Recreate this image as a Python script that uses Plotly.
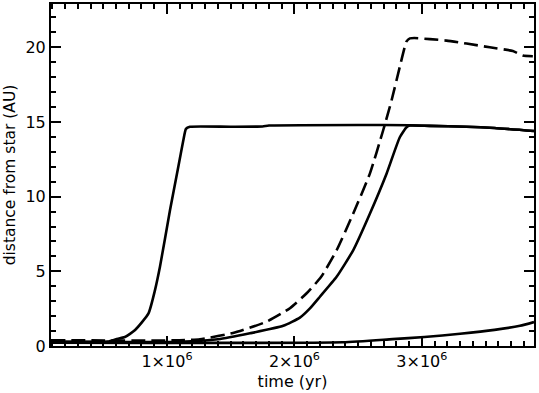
"""
Planet migration tracks: distance from star vs time
"""

import plotly.graph_objects as go

# fast solid track
time_a = [0.09e6, 0.537e6, 0.60e6, 0.67e6, 0.75e6, 0.855e6, 0.906e6, 0.945e6,
          1.024e6, 1.089e6, 1.128e6, 1.149e6, 1.18e6, 1.50e6, 1.75e6, 1.80e6,
          2.50e6, 2.90e6, 3.06e6, 3.35e6, 3.57e6, 3.88e6]
dist_a = [0.3, 0.3, 0.45, 0.6, 1.07, 2.18, 3.74, 5.3,
          9.1, 12.0, 13.76, 14.54, 14.68, 14.68, 14.7, 14.76,
          14.8, 14.78, 14.74, 14.68, 14.6, 14.4]

# middle solid track
time_b = [0.09e6, 1.10e6, 1.40e6, 1.651e6, 1.912e6, 2.043e6, 2.12e6, 2.20e6,
          2.331e6, 2.461e6, 2.592e6, 2.723e6, 2.827e6, 2.88e6, 2.906e6,
          3.06e6, 3.35e6, 3.57e6, 3.88e6]
dist_b = [0.28, 0.28, 0.45, 0.85, 1.35, 1.9, 2.5, 3.3,
          4.63, 6.41, 8.86, 11.54, 13.98, 14.65, 14.76,
          14.74, 14.68, 14.6, 14.4]

# dashed track
time_c = [0.09e6, 1.10e6, 1.259e6, 1.518e6, 1.782e6, 1.965e6, 2.096e6, 2.21e6,
          2.331e6, 2.461e6, 2.592e6, 2.696e6, 2.762e6, 2.827e6, 2.88e6,
          2.906e6, 2.94e6, 3.063e6, 3.194e6, 3.351e6, 3.533e6, 3.714e6,
          3.792e6, 3.871e6]
dist_c = [0.38, 0.38, 0.45, 0.87, 1.63, 2.53, 3.53, 4.63,
          6.41, 8.86, 11.54, 14.43, 16.43, 18.7, 20.4,
          20.6, 20.62, 20.55, 20.45, 20.25, 20.0, 19.75,
          19.45, 19.4]

# slow solid track
time_d = [0.09e6, 2.38e6, 2.77e6, 3.02e6, 3.30e6, 3.57e6, 3.77e6, 3.88e6]
dist_d = [0.22, 0.25, 0.46, 0.6, 0.82, 1.08, 1.35, 1.6]

x_tickvals = [1e6, 2e6, 3e6]
x_ticktext = ["1×10<sup>6</sup>", "2×10<sup>6</sup>", "3×10<sup>6</sup>"]

FONT = "DejaVu Sans"

fig = go.Figure()

for t, d, dash in [(time_a, dist_a, "solid"), (time_b, dist_b, "solid"),
                   (time_c, dist_c, "14px,6px"), (time_d, dist_d, "solid")]:
    fig.add_trace(go.Scatter(
        x=t, y=d, mode="lines",
        line=dict(color="black", width=2.6, dash=dash, shape="spline", smoothing=0.5),
        showlegend=False,
    ))

axis_common = dict(
    showgrid=False, zeroline=False,
    showline=True, linecolor="black", linewidth=2,
    mirror="allticks", ticks="inside", ticklen=10, tickwidth=2.2, tickcolor="black",
    tickfont=dict(family=FONT, size=16, color="black"),
    layer="above traces",
)

fig.update_xaxes(
    range=[0.09e6, 3.88e6],
    tickmode="array", tickvals=x_tickvals, ticktext=x_ticktext,
    minor=dict(ticks="inside", tickmode="linear", dtick=1e5, tick0=0,
               ticklen=5, tickwidth=2, tickcolor="black", showgrid=False),
    title=dict(text="time (yr)", font=dict(family=FONT, size=16, color="black"),
               standoff=6),
    **axis_common,
)
fig.update_yaxes(
    range=[0, 22.9],
    tickmode="linear", tick0=0, dtick=5,
    minor=dict(ticks="inside", tickmode="linear", dtick=1, tick0=0,
               ticklen=5, tickwidth=2, tickcolor="black", showgrid=False),
    title=dict(text="distance from star (AU)",
               font=dict(family=FONT, size=15.5, color="black"), standoff=6),
    **axis_common,
)

fig.update_layout(
    width=539, height=393,
    margin=dict(l=51, r=5, t=2, b=47),
    plot_bgcolor="white", paper_bgcolor="white",
)

fig.write_html("out.html", config={"displayModeBar": False},
               post_script="document.body.style.margin='0';")
